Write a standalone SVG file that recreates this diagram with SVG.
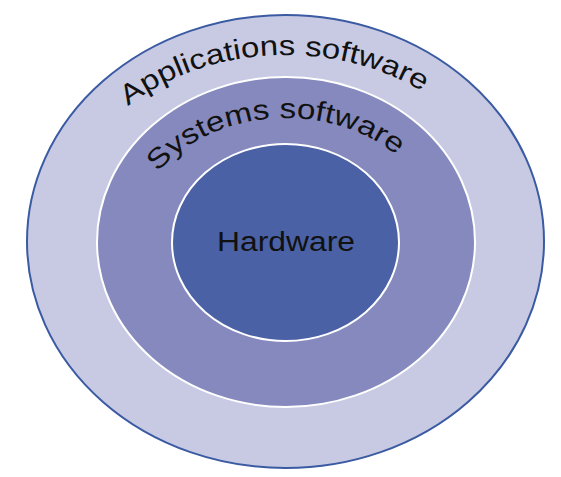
<svg xmlns="http://www.w3.org/2000/svg" width="561" height="477" viewBox="0 0 561 477">
<style>
.lbl{font-family:"Liberation Sans",Arial,sans-serif;font-size:28px;fill:#111;}
.hw{font-size:27px;}
</style>
<defs>
<path id="arcApp" d="M128,106 A230,187 0 0,1 512.5,209.5" fill="none"/>
<path id="arcSys" d="M158,172.1 A155,124 0 0,1 438.6,220.5" fill="none"/>
</defs>
<rect width="561" height="477" fill="#ffffff"/>
<g id="connectors"></g>
<g id="applications">
<ellipse cx="285.5" cy="241.5" rx="258.5" ry="226.5" fill="#c8cae4" stroke="#3a5aa2" stroke-width="2"/>
<text class="lbl"><textPath href="#arcApp" textLength="312" lengthAdjust="spacingAndGlyphs">Applications software</textPath></text>
</g>
<g id="systems">
<ellipse cx="286" cy="242" rx="189" ry="165" fill="#8589bd" stroke="#ffffff" stroke-width="2"/>
<text class="lbl"><textPath href="#arcSys" textLength="262" lengthAdjust="spacingAndGlyphs">Systems software</textPath></text>
</g>
<g id="hardware">
<ellipse cx="285.5" cy="242.5" rx="113.5" ry="98.5" fill="#4a61a5" stroke="#ffffff" stroke-width="2"/>
<text class="lbl hw" x="286" y="251" text-anchor="middle" textLength="138" lengthAdjust="spacingAndGlyphs">Hardware</text>
</g>
</svg>
